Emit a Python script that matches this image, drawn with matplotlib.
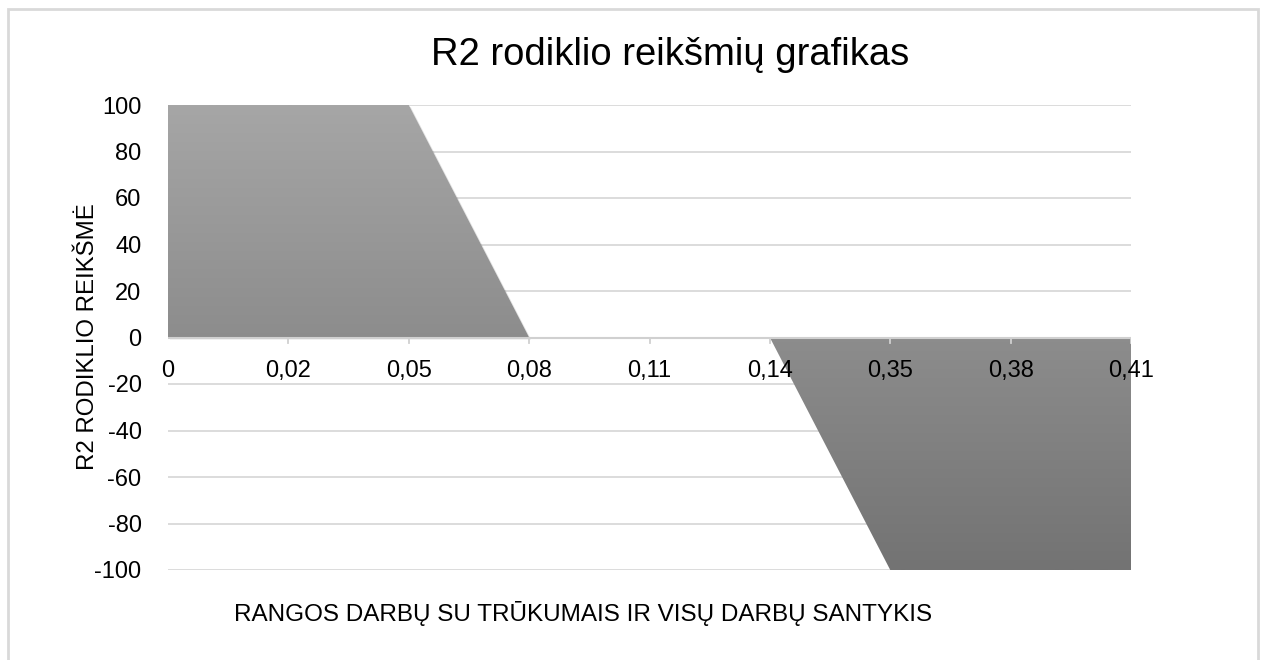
import numpy as np
import matplotlib
matplotlib.use("Agg")
import matplotlib.pyplot as plt
from matplotlib.patches import Rectangle
import matplotlib.transforms as mtransforms
from matplotlib.colors import LinearSegmentedColormap

categories = ["0", "0,02", "0,05", "0,08", "0,11", "0,14", "0,35", "0,38", "0,41"]
r2_values = [100, 100, 100, 0, 0, 0, -100, -100, -100]
y_ticks = [100, 80, 60, 40, 20, 0, -20, -40, -60, -80, -100]

title = "R2 rodiklio reikšmių grafikas"
x_title = "RANGOS DARBŲ SU TRŪKUMAIS IR VISŲ DARBŲ SANTYKIS"
y_title = "R2 RODIKLIO REIKŠMĖ"

plt.rcParams['font.family'] = ['Liberation Sans', 'DejaVu Sans']

W, H = 1261, 660
fig = plt.figure(figsize=(W / 100, H / 100), dpi=100)
fig.patch.set_facecolor("white")

# chart border
fig.patches.append(Rectangle((8 / W, -0.05), (1258 - 8) / W, (H - 9) / H + 0.05,
                             transform=fig.transFigure, fill=False,
                             edgecolor="#d9d9d9", linewidth=2))

left, right = 168, 1131
top, bottom = 105, 570
ax = fig.add_axes([left / W, 1 - bottom / H, (right - left) / W, (bottom - top) / H])
ax.set_facecolor("none")

x = np.arange(len(categories))
ax.set_xlim(0, len(categories) - 1)
ax.set_ylim(-100, 100)

# gridlines
for v in y_ticks:
    ax.axhline(v, color="#d9d9d9", linewidth=1.3, zorder=0)

# gradient-filled area
poly = ax.fill_between(x, r2_values, 0, facecolor="none", edgecolor="none", zorder=2)
sh = ax.fill_between(x, r2_values, 0, facecolor="#000000", alpha=0.10, edgecolor="none",
                     zorder=1.5)
sh.set_transform(ax.transData + mtransforms.ScaledTranslation(2 / 100, -2 / 100, fig.dpi_scale_trans))
grad = np.linspace(0, 1, 256).reshape(-1, 1)
cmap = LinearSegmentedColormap.from_list("g", ["#a6a6a6", "#737373"])
im = ax.imshow(grad, extent=[0, len(categories) - 1, -100, 100], aspect="auto",
               cmap=cmap, zorder=2, origin="upper")
ax.set_xlim(0, len(categories) - 1)
ax.set_ylim(-100, 100)
path = poly.get_paths()[0]
im.set_clip_path(path, transform=ax.transData)

# x axis line at 0 with ticks
ax.axhline(0, color="#d0d0d0", linewidth=1.5, zorder=3)
for xi in x[1:]:
    ax.plot([xi, xi], [0, -2.2], color="#d0d0d0", linewidth=1.3, zorder=3)

ax.set_yticks(y_ticks)
ax.set_yticklabels([str(v) for v in y_ticks], fontsize=17, color="#000000")
ax.tick_params(axis="y", length=0, pad=19)
ax.set_xticks([])
for s in ax.spines.values():
    s.set_visible(False)

# category labels just below zero line
for xi, lab in zip(x, categories):
    ax.text(xi, -9.5, lab, ha="center", va="top", fontsize=17, color="#000000", zorder=4)

fig.text(670 / W, 1 - 55 / H, title, ha="center", va="center", fontsize=27.5, color="#000000")
fig.text(583 / W, 1 - 613 / H, x_title, ha="center", va="center", fontsize=17.5, color="#000000")
fig.text(88 / W, 1 - 337 / H, y_title, ha="center", va="center", rotation=90,
         fontsize=17.3, color="#000000")

fig.savefig("out.png", dpi=100, facecolor="white")
